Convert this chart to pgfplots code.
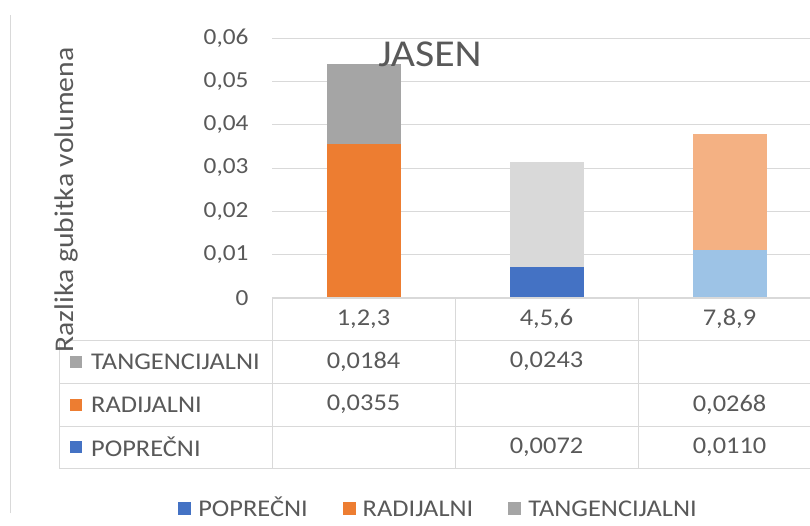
\documentclass[border=0pt]{standalone}
\usepackage{fontspec}
\setmainfont{Carlito}[FakeStretch=1.1]
\usepackage{pgfplots}
\pgfplotsset{compat=1.18}
\definecolor{txt}{HTML}{595959}
\definecolor{gridc}{HTML}{D9D9D9}
\definecolor{cblue}{HTML}{4472C4}
\definecolor{corange}{HTML}{ED7D31}
\definecolor{cgray}{HTML}{A5A5A5}
\definecolor{lgray}{HTML}{D9D9D9}
\definecolor{lorange}{HTML}{F4B183}
\definecolor{lblue}{HTML}{9DC3E6}
\newcommand{\fs}[1]{\fontsize{#1}{#1}\selectfont}
\begin{document}
\begin{tikzpicture}[x=1pt,y=1pt]
\path[use as bounding box] (0,0) rectangle (810,525);
% outer left line
\draw[gridc, line width=1pt] (10,12) -- (10,510);
\begin{axis}[
  at={(272pt,227pt)}, anchor=south west,
  scale only axis, width=549pt, height=260pt,
  xmin=-0.5, xmax=2.5, ymin=0, ymax=0.06,
  ybar stacked, bar width=74pt,
  axis line style={draw=none},
  xtick=\empty,
  scaled y ticks=false,
  ytick={0,0.01,0.02,0.03,0.04,0.05,0.06},
  yticklabels={0,{0,01},{0,02},{0,03},{0,04},{0,05},{0,06}},
  yticklabel style={font=\fs{23}, text=txt, anchor=east, xshift=-20pt},
  major tick length=0pt,
  ymajorgrids, grid style={gridc, line width=1pt},
  legend columns=3,
  legend style={draw=none, fill=none, at={(0.3015,-0.8115)}, anchor=center,
    font=\fs{24}, text=txt, nodes={inner sep=0pt, text height=15.5pt, text depth=0pt},
    /tikz/every odd column/.append style={column sep=7pt},
    /tikz/every even column/.append style={column sep=35pt}},
  legend image code/.code={\fill[#1] (0pt,-6.5pt) rectangle (13pt,6.5pt);},
  clip=false,
]
% POPRECNI
\addplot[fill=cblue, draw=none, forget plot] coordinates {(0,0) (1,0.0072) (2,0)};
\addplot[fill=lblue, draw=none, forget plot] coordinates {(0,0) (1,0) (2,0.0110)};
% RADIJALNI
\addplot[fill=corange, draw=none, forget plot] coordinates {(0,0.0355) (1,0) (2,0)};
\addplot[fill=lorange, draw=none, forget plot] coordinates {(0,0) (1,0) (2,0.0268)};
% TANGENCIJALNI
\addplot[fill=cgray, draw=none, forget plot] coordinates {(0,0.0184) (1,0) (2,0)};
\addplot[fill=lgray, draw=none, forget plot] coordinates {(0,0) (1,0.0243) (2,0)};
\addlegendimage{fill=cblue, draw=none}
\addlegendentry{POPREČNI}
\addlegendimage{fill=corange, draw=none}
\addlegendentry{RADIJALNI}
\addlegendimage{fill=cgray, draw=none}
\addlegendentry{TANGENCIJALNI}
\end{axis}
% data table
\begin{scope}[gridc, line width=1pt]
\draw (272,227) -- (830,227);
\draw (59,185) -- (830,185);
\draw (59,142) -- (830,142);
\draw (59,99) -- (830,99);
\draw (59,57) -- (830,57);
\draw (59,185) -- (59,57);
\draw (272,227) -- (272,57);
\draw (455,227) -- (455,57);
\draw (638,227) -- (638,57);
\draw (821,227) -- (821,57);
\end{scope}
\begin{scope}[text=txt, font=\fs{24}]
\node at (363.5,206) {1,2,3};
\node at (546.5,206) {4,5,6};
\node at (729.5,206) {7,8,9};
\node at (363.5,163.5) {0,0184};
\node at (546.5,163.5) {0,0243};
\node at (363.5,120.5) {0,0355};
\node at (729.5,120.5) {0,0268};
\node at (546.5,78) {0,0072};
\node at (729.5,78) {0,0110};
\fill[cgray] (70,157.5) rectangle (82,169.5);
\node[anchor=west, inner sep=0pt] at (91,163.5) {TANGENCIJALNI};
\fill[corange] (70,114.5) rectangle (82,126.5);
\node[anchor=west, inner sep=0pt] at (91,120.5) {RADIJALNI};
\fill[cblue] (70,72) rectangle (82,84);
\node[anchor=west, inner sep=0pt] at (91,78) {POPREČNI};
\node[rotate=90, font=\fs{27}] at (66,325) {Razlika gubitka volumena};
\node[font=\fs{38}] at (430,471) {JASEN};
\end{scope}
\end{tikzpicture}
\end{document}
